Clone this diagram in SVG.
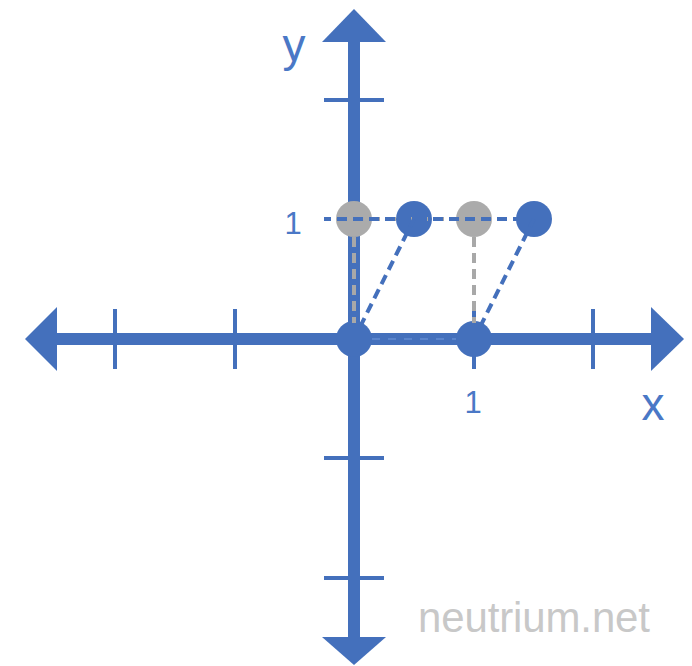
<svg xmlns="http://www.w3.org/2000/svg" width="692" height="666" viewBox="0 0 692 666">
<style>
.ax{stroke:#4470BC;stroke-width:12;fill:none}
.head{fill:#4470BC}
.tick{stroke:#4470BC;stroke-width:4}
.lbl{font-family:"Liberation Sans",Arial,sans-serif;fill:#4A78C6}
.bd{stroke:#4470BC;stroke-width:4;stroke-dasharray:10 6;fill:none}
.gd{stroke:#A8A8A8;stroke-width:4;stroke-dasharray:10 6;fill:none}
.dotb{fill:#4470BC}
.dotg{fill:#ABABAB}
</style>
<rect width="692" height="666" fill="#ffffff"/>
<g id="axes">
  <line class="ax" x1="354" y1="40" x2="354" y2="640"/>
  <line class="ax" x1="55" y1="339" x2="653" y2="339"/>
  <polygon class="head" points="354,9 386,42 322,42"/>
  <polygon class="head" points="354,665 386,637 322,637"/>
  <polygon class="head" points="25,339 57,307 57,371"/>
  <polygon class="head" points="684,339 651,307 651,371"/>
  <line class="tick" x1="115" y1="309" x2="115" y2="369"/>
  <line class="tick" x1="235" y1="309" x2="235" y2="369"/>
  <line class="tick" x1="474" y1="309" x2="474" y2="369"/>
  <line class="tick" x1="593" y1="309" x2="593" y2="369"/>
  <line class="tick" x1="324" y1="100" x2="384" y2="100"/>
  <line class="tick" x1="324" y1="458" x2="384" y2="458"/>
  <line class="tick" x1="324" y1="578" x2="384" y2="578"/>
</g>
<g id="labels">
  <text class="lbl" x="294" y="61" font-size="46" text-anchor="middle">y</text>
  <text class="lbl" x="653" y="420" font-size="46" text-anchor="middle">x</text>
  <text class="lbl" x="293" y="234" font-size="31" text-anchor="middle">1</text>
  <text class="lbl" x="473" y="413" font-size="31" text-anchor="middle">1</text>
  <text x="418" y="632" font-size="42" font-family="'Liberation Sans',Arial,sans-serif" fill="#C8C8C8" textLength="232">neutrium.net</text>
</g>
<g id="points">
  <circle id="p-origin" class="dotb" cx="354" cy="339" r="18"/>
  <circle id="p-x1" class="dotb" cx="474" cy="339" r="18"/>
  <circle id="p-g1" class="dotg" cx="354" cy="219" r="18"/>
  <circle id="p-b1" class="dotb" cx="414" cy="219" r="18"/>
  <circle id="p-g2" class="dotg" cx="474" cy="219" r="18"/>
  <circle id="p-b2" class="dotb" cx="534" cy="219" r="18"/>
</g>
<g id="connectors">
  <line class="gd" x1="354" y1="219" x2="474" y2="219"/>
  <line class="bd" x1="324" y1="219" x2="534" y2="219" stroke-dashoffset="3"/>
  <line x1="372" y1="339" x2="456" y2="339" stroke="#5A84CC" stroke-width="2" stroke-dasharray="8 8"/>
  <line class="gd" x1="354" y1="237" x2="354" y2="323"/>
  <line class="gd" x1="474" y1="237" x2="474" y2="323"/>
  <line class="bd" x1="360" y1="327" x2="414" y2="219"/>
  <line class="bd" x1="480" y1="327" x2="534" y2="219"/>
</g>
</svg>
